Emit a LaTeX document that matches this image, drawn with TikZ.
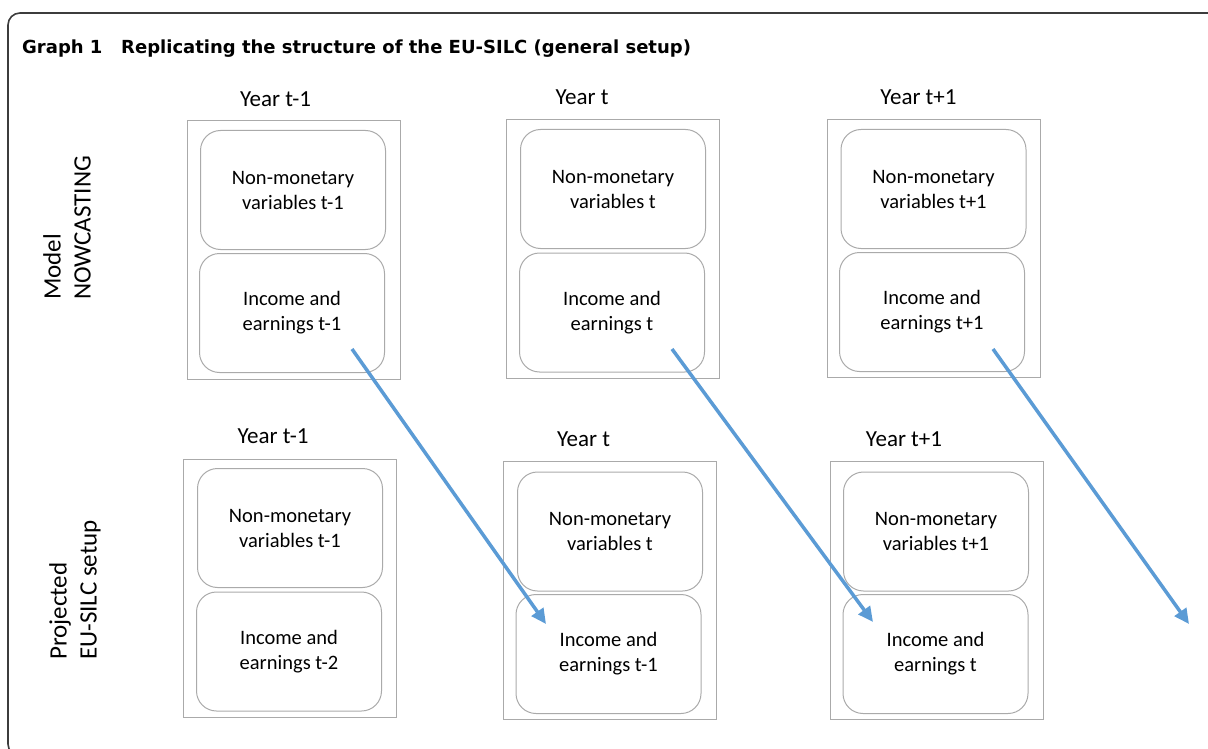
\documentclass[tikz,border=0pt]{standalone}
\usepackage{fontspec}
\setmainfont{Carlito}
\newfontfamily\titlefont{DejaVu Sans}
\usetikzlibrary{arrows.meta}
\definecolor{flowblue}{RGB}{91,155,213}
\definecolor{boxgray}{RGB}{170,170,170}
\definecolor{framegray}{RGB}{60,60,60}
\begin{document}
\begin{tikzpicture}[x=1pt,y=-1pt,
  yearbox/.style={draw=boxgray,line width=1pt,minimum width=213pt,minimum height=258pt,inner sep=0pt},
  part/.style={draw=boxgray,line width=1pt,rounded corners=20pt,minimum width=185pt,minimum height=119pt,align=center,inner sep=0pt,font=\fontsize{20.5}{25}\selectfont},
  yearlab/.style={inner sep=0pt,font=\fontsize{23}{27}\selectfont},
  rowlab/.style={rotate=90,anchor=west,align=left,inner sep=0pt,font=\fontsize{25}{30}\selectfont},
  headline/.style={anchor=base west,inner sep=0pt,font=\titlefont\bfseries\fontsize{18}{21}\selectfont},
  flow/.style={draw=flowblue,line width=3.5pt,-{Triangle[width=14pt,length=15pt]}}]
\useasboundingbox (0,0) rectangle (1208,749);
% frame and heading
\draw[framegray,line width=1.6pt,rounded corners=12pt] (1230,13) -- (8,13) -- (8,756) -- (1230,756);
\node[headline] (gnum) at (22,54) {Graph 1};
\node[headline] (gtitle) at (121,54) {Replicating the structure of the EU-SILC (general setup)};
% row labels
\node[rowlab] (model) at (67,300) {Model\\NOWCASTING};
\node[rowlab] (proj) at (75,660) {Projected\\EU-SILC setup};
% model row
\node[yearlab] (y11) at (275.5,99) {Year t-1};
\node[yearlab] (y12) at (582,97) {Year t};
\node[yearlab] (y13) at (918.5,97) {Year t+1};
\node[yearbox] (o11) at (293.5,250) {};
\node[yearbox] (o12) at (613,249) {};
\node[yearbox] (o13) at (933.5,248.5) {};
\node[part] (n11) at (293,190) {Non-monetary\\variables t-1};
\node[part] (i11) at (292,313) {Income and\\earnings t-1};
\node[part] (n12) at (613,189) {Non-monetary\\variables t};
\node[part] (i12) at (612,312.5) {Income and\\earnings t};
\node[part] (n13) at (933.5,189) {Non-monetary\\variables t+1};
\node[part] (i13) at (932,312) {Income and\\earnings t+1};
% projected row
\node[yearlab] (y21) at (273,436) {Year t-1};
\node[yearlab] (y22) at (583.5,439) {Year t};
\node[yearlab] (y23) at (904,439) {Year t+1};
\node[yearbox] (o21) at (290,588) {};
\node[yearbox] (o22) at (609.5,590.5) {};
\node[yearbox] (o23) at (937,590.5) {};
\node[part] (n21) at (290,528) {Non-monetary\\variables t-1};
\node[part] (i21) at (289,651.5) {Income and\\earnings t-2};
\node[part] (n22) at (610,531.5) {Non-monetary\\variables t};
\node[part] (i22) at (608.5,654) {Income and\\earnings t-1};
\node[part] (n23) at (936,531.5) {Non-monetary\\variables t+1};
\node[part] (i23) at (935.5,654) {Income and\\earnings t};
% shift of income by one year
\coordinate (s1) at (352,349);
\coordinate (e1) at (546,624);
\coordinate (s2) at (672,349);
\coordinate (e2) at (873,622);
\coordinate (s3) at (993,349);
\coordinate (e3) at (1189,624);
\draw[flow] (s1) -- (e1);
\draw[flow] (s2) -- (e2);
\draw[flow] (s3) -- (e3);
\end{tikzpicture}
\end{document}
